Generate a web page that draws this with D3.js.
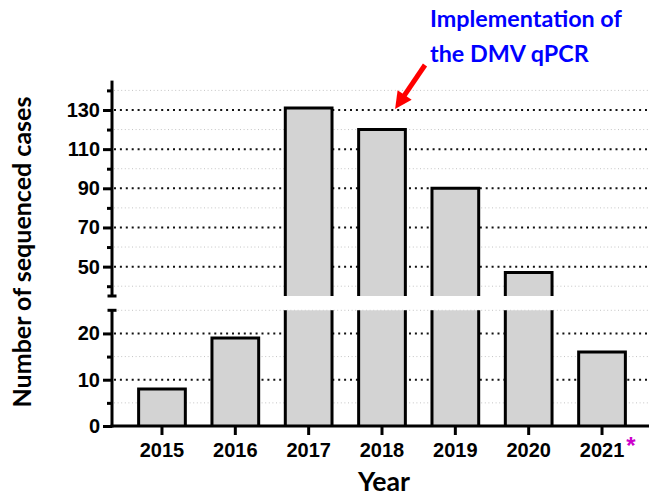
<!DOCTYPE html>
<html>
<head>
<meta charset="utf-8">
<script src="https://cdn.jsdelivr.net/npm/d3@7"></script>
<style>
  html, body { margin: 0; padding: 0; background: #fff; }
  svg { display: block; }
</style>
</head>
<body>
<script>
// Sequenced cases per year, with a broken y axis (0–25 below, 35–145 above)
const years = ["2015", "2016", "2017", "2018", "2019", "2020", "2021"];
const cases = [8, 19, 131, 120, 90, 47, 16];

const lowerDomain = [0, 25];
const upperDomain = [35, 145];
const lowerMajorTicks = [0, 10, 20];
const lowerMinorTicks = [5, 15, 25];
const upperMajorTicks = [50, 70, 90, 110, 130];
const upperMinorTicks = [40, 60, 80, 100, 120, 140];

const W = 649, H = 499;
const axisX = 112;
const barFill = "#d3d3d3";
const tickFont = "'Liberation Sans', Arial, sans-serif";
const titleFont = "Lato, 'Open Sans', sans-serif";

const svg = d3.select("body").append("svg")
  .attr("width", W).attr("height", H);

const x = d3.scaleBand().domain(years)
  .range([axisX, 652]).paddingInner(0.363).paddingOuter(0.363);
const yLow = d3.scaleLinear().domain(lowerDomain).range([426, 310.3]);
const yUp = d3.scaleLinear().domain(upperDomain).range([296, 80.6]);
const bw = x.bandwidth();

// ---- grid lines ----
const grid = svg.append("g");
function gridLines(scale, vals, major) {
  grid.selectAll(null).data(vals).enter().append("line")
    .attr("x1", axisX + 2).attr("x2", W)
    .attr("y1", d => scale(d)).attr("y2", d => scale(d))
    .attr("stroke", major ? "#111" : "#c4c4c4")
    .attr("stroke-width", major ? 2 : 1)
    .attr("stroke-dasharray", major ? "2,3.9" : "1,2.6");
}
gridLines(yLow, lowerMinorTicks, false);
gridLines(yLow, lowerMajorTicks.filter(d => d > 0), true);
gridLines(yUp, upperMinorTicks, false);
gridLines(yUp, upperMajorTicks, true);

// ---- bars ----
const data = years.map((yr, i) => ({ year: yr, value: cases[i] }));
const bars = svg.append("g");
data.forEach(d => {
  const x0 = x(d.year), x1 = x0 + bw;
  const base = yLow(0);
  const lowTop = yLow(Math.min(d.value, lowerDomain[1]));
  bars.append("rect")
    .attr("x", x0).attr("y", lowTop)
    .attr("width", bw).attr("height", base - lowTop)
    .attr("fill", barFill);
  const lowPath = d.value <= lowerDomain[1]
    ? `M${x0},${base}V${lowTop}H${x1}V${base}`
    : `M${x0},${base}V${lowTop}M${x1},${lowTop}V${base}`;
  bars.append("path").attr("d", lowPath)
    .attr("fill", "none").attr("stroke", "#000").attr("stroke-width", 3)
    .attr("stroke-linejoin", "miter");

  if (d.value > upperDomain[0]) {
    const ub = yUp(upperDomain[0]), ut = yUp(d.value);
    bars.append("rect")
      .attr("x", x0).attr("y", ut)
      .attr("width", bw).attr("height", ub - ut)
      .attr("fill", barFill);
    bars.append("path").attr("d", `M${x0},${ub}V${ut}H${x1}V${ub}`)
      .attr("fill", "none").attr("stroke", "#000").attr("stroke-width", 3)
      .attr("stroke-linejoin", "miter");
  }
});

// ---- axes ----
function styleAxis(g) {
  g.select(".domain").remove();
  g.selectAll(".tick line").attr("stroke", "#000").attr("stroke-width", 3);
  g.selectAll(".tick text")
    .attr("fill", "#000")
    .style("font-family", tickFont)
    .style("font-weight", "bold")
    .style("font-size", "20px");
}

// x axis
const gx = svg.append("g").attr("transform", `translate(0,${yLow(0)})`)
  .call(d3.axisBottom(x).tickSize(9).tickSizeOuter(0).tickPadding(8))
  .call(styleAxis);
svg.append("line")
  .attr("x1", axisX - 1.5).attr("x2", W + 5)
  .attr("y1", yLow(0)).attr("y2", yLow(0))
  .attr("stroke", "#000").attr("stroke-width", 3);

// y axis, lower part
svg.append("g").attr("transform", `translate(${axisX},0)`)
  .call(d3.axisLeft(yLow).tickValues(lowerMajorTicks).tickSize(9).tickSizeOuter(0).tickPadding(3))
  .call(styleAxis);
svg.append("g").attr("transform", `translate(${axisX},0)`)
  .call(d3.axisLeft(yLow).tickValues(lowerMinorTicks.slice(0, -1)).tickSize(5).tickSizeOuter(0).tickFormat(""))
  .call(styleAxis);

// y axis, upper part
svg.append("g").attr("transform", `translate(${axisX},0)`)
  .call(d3.axisLeft(yUp).tickValues(upperMajorTicks).tickSize(9).tickSizeOuter(0).tickPadding(3))
  .call(styleAxis);
svg.append("g").attr("transform", `translate(${axisX},0)`)
  .call(d3.axisLeft(yUp).tickValues(upperMinorTicks).tickSize(5).tickSizeOuter(0).tickFormat(""))
  .call(styleAxis);

// axis spines with end caps at the break
const spines = svg.append("g").attr("stroke", "#000").attr("stroke-width", 3);
spines.append("line").attr("x1", axisX).attr("x2", axisX)
  .attr("y1", yLow(lowerDomain[1])).attr("y2", yLow(0) + 1.5);
spines.append("line").attr("x1", axisX).attr("x2", axisX)
  .attr("y1", yUp(upperDomain[1])).attr("y2", yUp(upperDomain[0]));
spines.append("line").attr("x1", axisX - 4.5).attr("x2", axisX + 4.5)
  .attr("y1", yLow(lowerDomain[1])).attr("y2", yLow(lowerDomain[1]));
spines.append("line").attr("x1", axisX - 4.5).attr("x2", axisX + 4.5)
  .attr("y1", yUp(upperDomain[0])).attr("y2", yUp(upperDomain[0]));

// ---- titles ----
function fitWidth(sel, w) {
  const len = sel.node().getComputedTextLength();
  const fs = parseFloat(sel.style("font-size"));
  const nfs = fs * w / len;
  sel.style("font-size", nfs + "px");
  return nfs;
}

const yTitle = svg.append("text")
  .attr("transform", "translate(31,252) rotate(-90)")
  .attr("text-anchor", "middle")
  .style("font-family", titleFont).style("font-weight", "bold").style("font-size", "24px")
  .attr("fill", "#000")
  .text("Number of sequenced cases");
fitWidth(yTitle, 311);

const xTitle = svg.append("text")
  .attr("x", 384).attr("y", 491)
  .attr("text-anchor", "middle")
  .style("font-family", titleFont).style("font-weight", "bold").style("font-size", "24px")
  .attr("fill", "#000")
  .text("Year");
fitWidth(xTitle, 52);

// asterisk beside the 2021 label
const lastTick = x(years[years.length - 1]) + bw / 2;
svg.append("text")
  .attr("x", lastTick + 29).attr("y", 454)
  .attr("text-anchor", "middle")
  .style("font-family", tickFont).style("font-weight", "bold").style("font-size", "24px")
  .attr("fill", "#cc00cc")
  .text("*");

// ---- annotation ----
const note1 = svg.append("text")
  .attr("x", 430).attr("y", 27)
  .style("font-family", titleFont).style("font-weight", "bold").style("font-size", "24px")
  .attr("fill", "#0000ff")
  .text("Implementation of");
const noteSize = fitWidth(note1, 192);
svg.append("text")
  .attr("x", 430).attr("y", 62)
  .style("font-family", titleFont).style("font-weight", "bold").style("font-size", noteSize + "px")
  .attr("fill", "#0000ff")
  .text("the DMV qPCR");

// arrow pointing at the 2018 bar
const tip = [x("2018") + 0.78 * bw, yUp(130.5)];
const tail = [425, 65];
const dx = tip[0] - tail[0], dy = tip[1] - tail[1];
const len = Math.hypot(dx, dy);
const ux = dx / len, uy = dy / len;
const headLen = 17, headHalf = 8.5;
const base = [tip[0] - ux * headLen, tip[1] - uy * headLen];
svg.append("line")
  .attr("x1", tail[0]).attr("y1", tail[1])
  .attr("x2", base[0] + ux * 2).attr("y2", base[1] + uy * 2)
  .attr("stroke", "#ff0000").attr("stroke-width", 5);
svg.append("path")
  .attr("d", `M${tip[0]},${tip[1]}L${base[0] - uy * headHalf},${base[1] + ux * headHalf}L${base[0] + uy * headHalf},${base[1] - ux * headHalf}Z`)
  .attr("fill", "#ff0000");
</script>
</body>
</html>
